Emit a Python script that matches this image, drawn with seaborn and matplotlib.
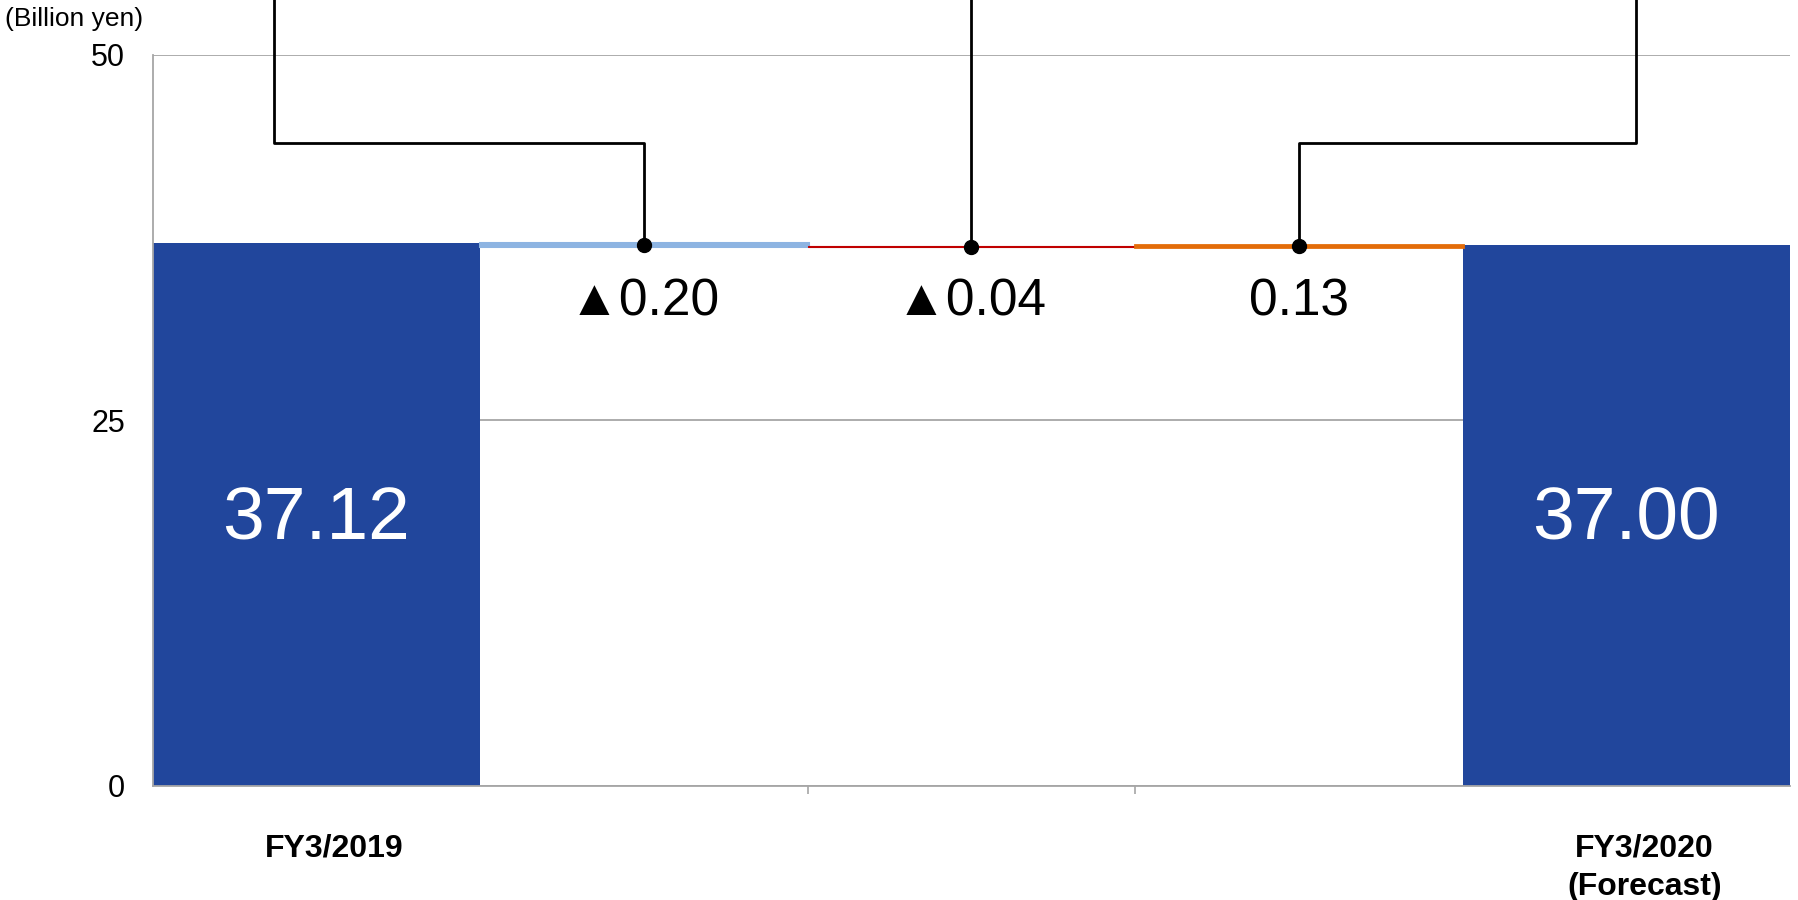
import pandas as pd
import seaborn as sns
import matplotlib.pyplot as plt
from matplotlib.transforms import ScaledTranslation

# Waterfall data (billion yen)
steps = ["FY3/2019", "chg1", "chg2", "chg3", "FY3/2020"]
tick_labels = ["FY3/2019", "", "", "", "FY3/2020\n(Forecast)"]
start_total = 37.12
end_total = 37.00
changes = [-0.20, -0.04, 0.13]
change_labels = ["▲0.20", "▲0.04", "0.13"]
change_colors = ["#8DB4E2", "#C00000", "#E36C09"]
change_lw = [2.2, 0.8, 2.0]

bar_color = "#21469C"
grid_color = "#A6A6A6"

sns.set_theme(style="white")
plt.rcParams['font.family'] = ['Liberation Sans', 'DejaVu Sans']
plt.rcParams['text.color'] = 'black'
plt.rcParams['xtick.color'] = 'black'
plt.rcParams['ytick.color'] = 'black'

fig = plt.figure(figsize=(17.99, 9), dpi=100)
ax = fig.add_axes([0.0848, 0.1267, 0.9102, 0.8122])

# totals via seaborn
df = pd.DataFrame({"step": steps, "value": [start_total, 0, 0, 0, end_total]})
sns.barplot(data=df, x="step", y="value", order=steps, color=bar_color,
            saturation=1, width=1.0, linewidth=0, ax=ax, zorder=2)

# floating change bars
level = start_total
dot_y = []
for i, (c, col, lw) in enumerate(zip(changes, change_colors, change_lw)):
    new = level + c
    lo = min(level, new)
    ax.bar(i + 1, abs(c), bottom=lo, width=1.0, color=col, edgecolor=col,
           linewidth=lw, zorder=3)
    dot_y.append(lo + abs(c) / 2)
    level = new

# change labels under the steps
for i, lab in enumerate(change_labels):
    ax.text(i + 1, 33.1, lab, ha="center", va="center", fontsize=37, color="black")

# total labels inside the bars
ax.text(0, 18.2, f"{start_total:.2f}", ha="center", va="center", fontsize=54, color="white")
ax.text(4, 18.2, f"{end_total:.2f}", ha="center", va="center", fontsize=54, color="white")

# connector lines up to the (off-chart) callouts
bracket_y = 44
top_y = 60
ax.plot([1, 1, -0.13, -0.13], [dot_y[0], bracket_y, bracket_y, top_y],
        color="black", lw=2.0, clip_on=False, zorder=4)
ax.plot([2, 2], [dot_y[1], top_y], color="black", lw=2.0, clip_on=False, zorder=4)
ax.plot([3, 3, 4.03, 4.03], [dot_y[2], bracket_y, bracket_y, top_y],
        color="black", lw=2.0, clip_on=False, zorder=4)
ax.plot([1, 2, 3], dot_y, "o", color="black", ms=10, zorder=5, clip_on=False)

# axes styling
ax.set_xlim(-0.5, 4.5)
ax.set_ylim(0, 50)
ax.set_yticks([0, 25, 50])
ax.yaxis.grid(True, color=grid_color, lw=1.3)
ax.set_axisbelow(True)
ax.set_xlabel("")
ax.set_ylabel("")
for s in ["top", "right"]:
    ax.spines[s].set_visible(False)
for s in ["left", "bottom"]:
    ax.spines[s].set_color(grid_color)
    ax.spines[s].set_linewidth(1.3)

ax.tick_params(axis="y", labelsize=22, length=0, pad=20, labelcolor="black")
ax.set_xticks(range(len(steps)))
ax.set_xticklabels(tick_labels, fontsize=23, fontweight="bold", color="black")
ax.tick_params(axis="x", which="major", length=0, pad=34)
ax.set_xticks([1.5, 2.5], minor=True)
ax.tick_params(axis="x", which="minor", bottom=True, length=6, width=1.2, color=grid_color)
shift = ScaledTranslation(0.18, 0, fig.dpi_scale_trans)
for lab in ax.get_xticklabels():
    lab.set_ha("center")
    lab.set_multialignment("center")
    lab.set_linespacing(1.4)
    lab.set_transform(lab.get_transform() + shift)

fig.text(5 / 1799, 1 - 19 / 900, "(Billion yen)", ha="left", va="center", fontsize=19)

fig.savefig("out.png", dpi=100)
